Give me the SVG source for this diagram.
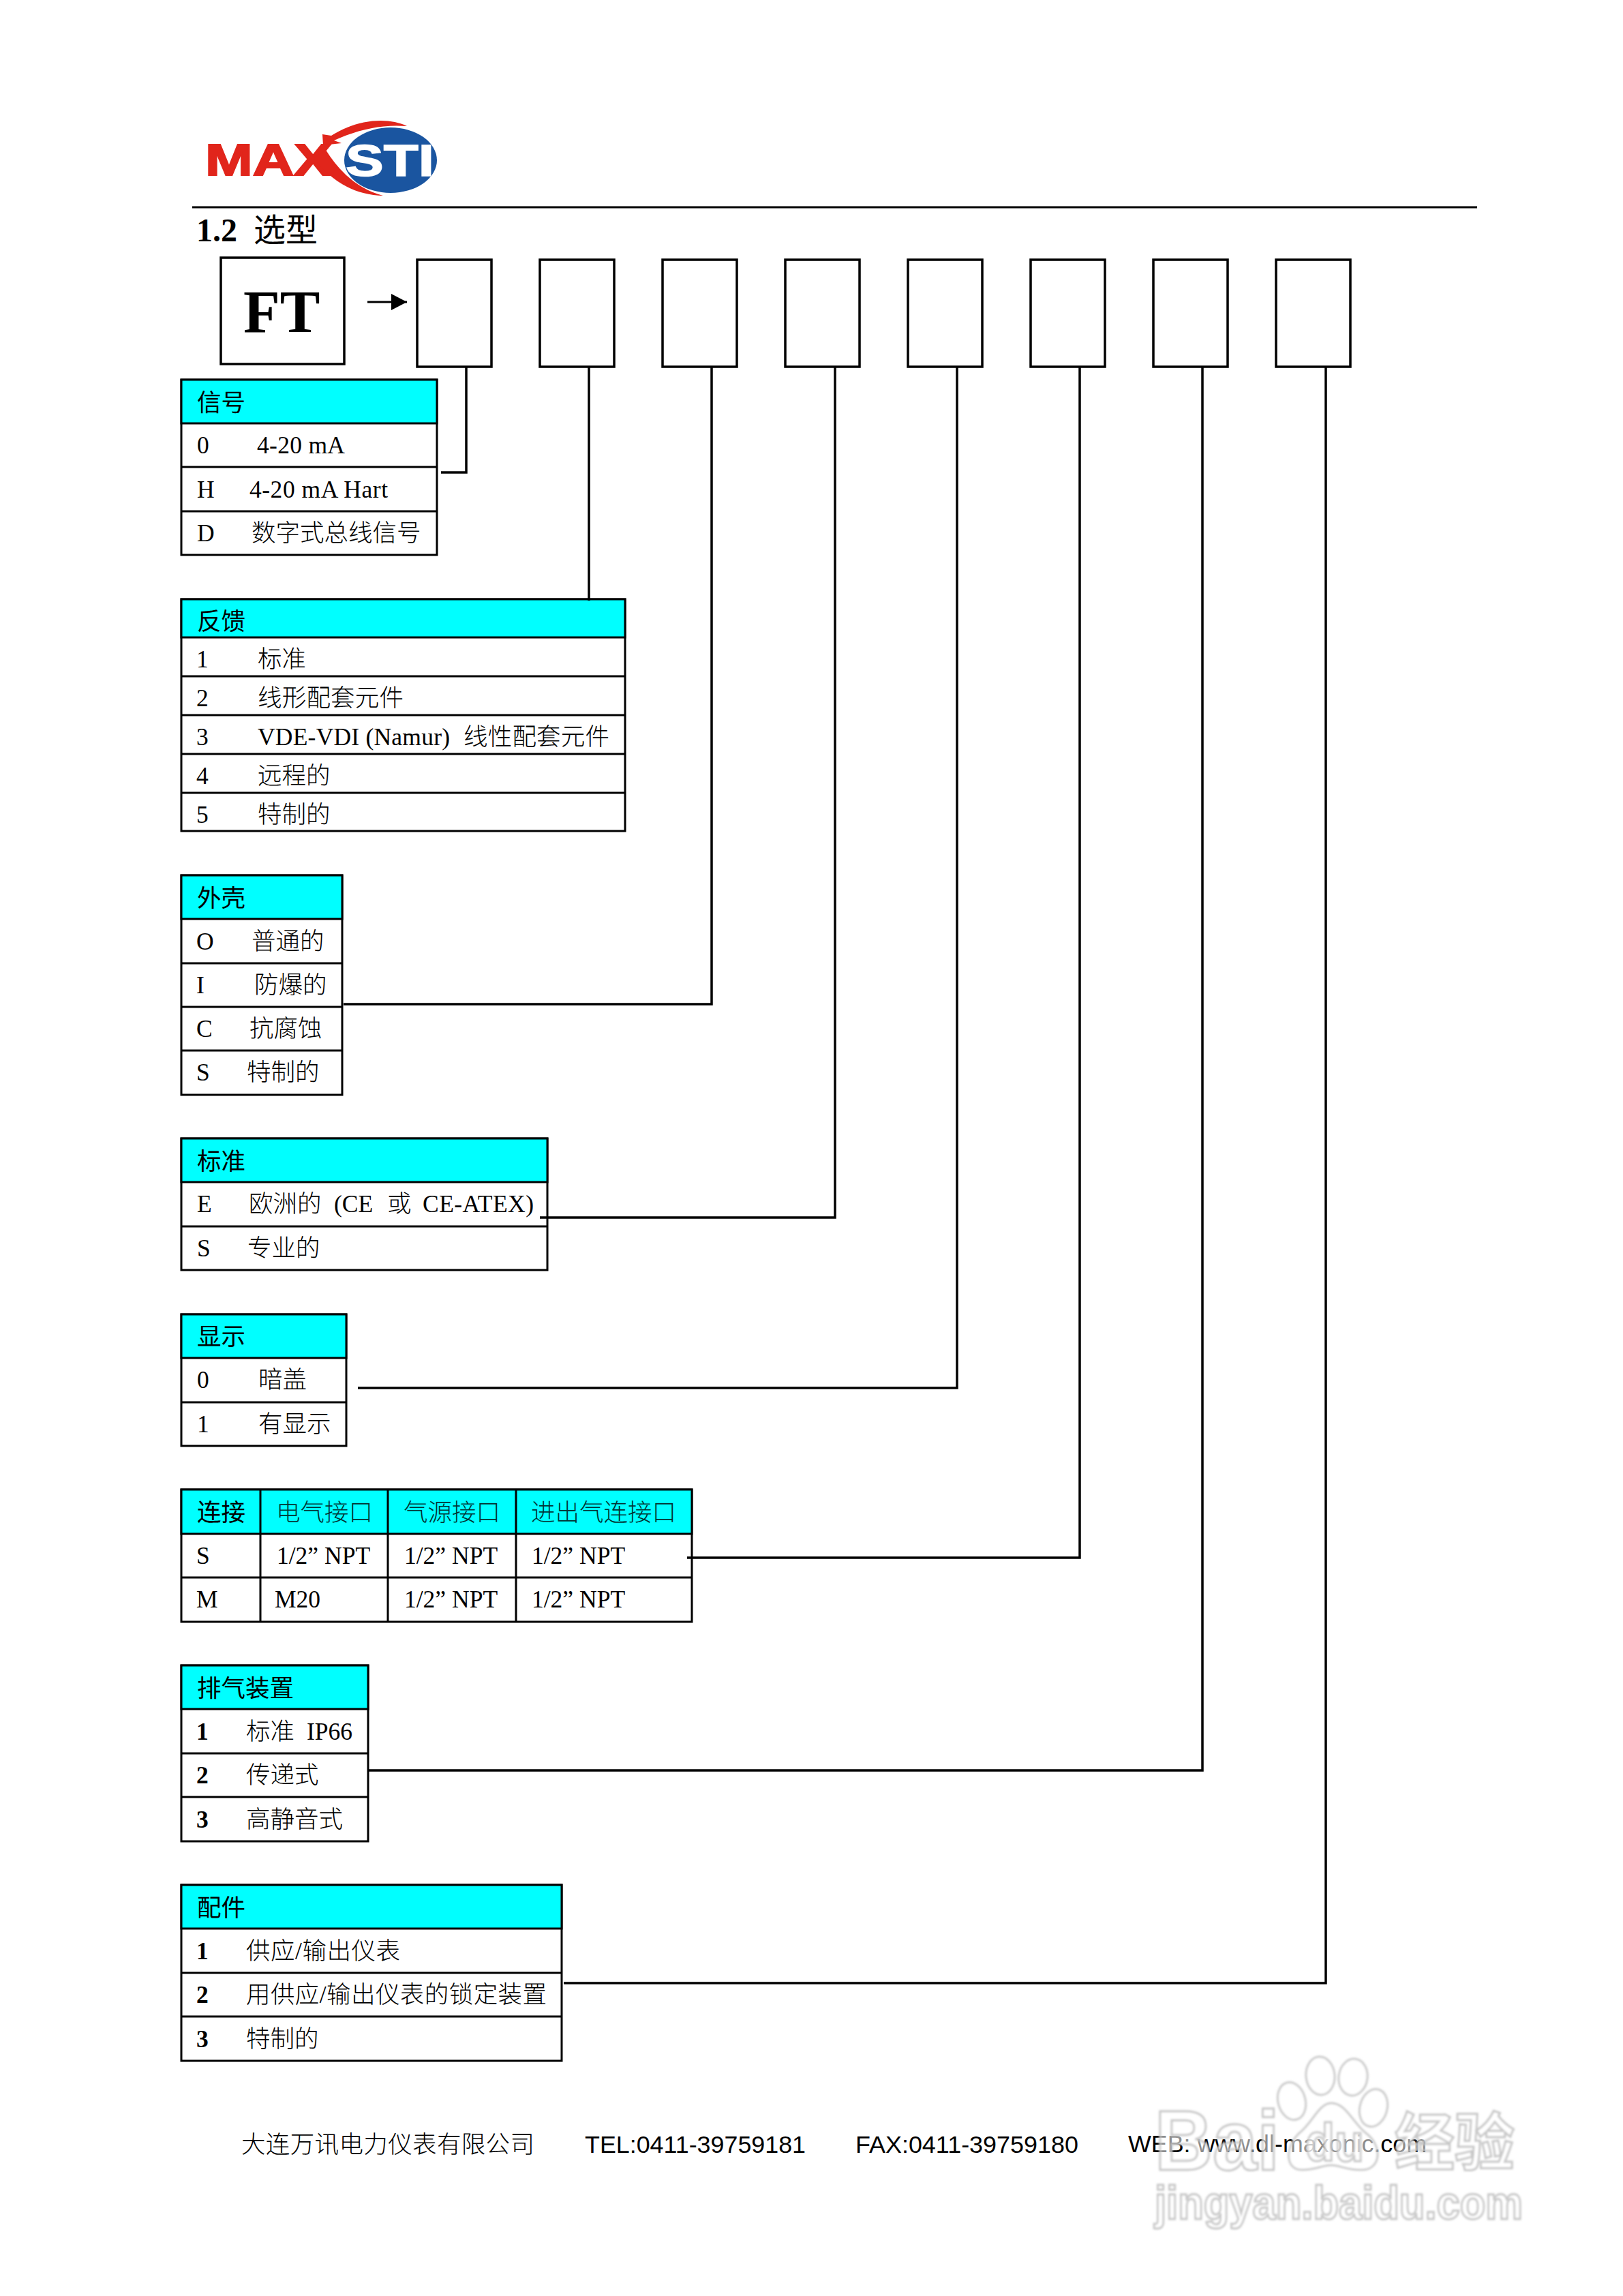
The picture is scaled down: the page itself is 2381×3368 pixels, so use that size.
<svg xmlns="http://www.w3.org/2000/svg" width="2381" height="3368" viewBox="0 0 2381 3368">
<defs>
<filter id="soft" x="-5%" y="-5%" width="110%" height="110%"><feGaussianBlur stdDeviation="1.8"/></filter>
<marker id="arrow" markerUnits="userSpaceOnUse" markerWidth="24" markerHeight="26" refX="23" refY="13" orient="auto"><path d="M0 1L23 13L0 25Z" fill="#000"/></marker>
</defs>
<style>
text{font-family:"Liberation Serif","Noto Sans CJK SC",serif;font-size:35.5px;fill:#000;font-weight:300}
.b{font-weight:bold}
.hd{font-weight:400}
.teal{fill:#023434}
.cell{fill:#fff;stroke:#000;stroke-width:3}
.head{fill:#0ff;stroke:#000;stroke-width:3}
.sl{stroke:#000;stroke-width:3;fill:none}
.box{fill:#fff;stroke:#000;stroke-width:3.5}
.conn{fill:none;stroke:#000;stroke-width:3.5}
.foot{font-family:"Liberation Sans","Noto Sans CJK SC",sans-serif;font-size:35.3px;font-weight:400}
.wm{font-family:"Liberation Sans","Noto Sans CJK SC",sans-serif;font-weight:bold;fill:#fff;fill-opacity:.55;stroke:#c6c6c6;stroke-width:3}
.wmp{fill:#fff;fill-opacity:.55;stroke:#cacaca;stroke-width:3}
</style>
<rect width="2381" height="3368" fill="#fff"/>

<g id="logo">
<ellipse cx="573" cy="235" rx="68" ry="48" fill="#1a55a0"/>
<text x="301" y="257" textLength="186" lengthAdjust="spacingAndGlyphs" style="font-family:'Liberation Sans',sans-serif;font-weight:bold;font-size:64px;fill:#e1251b;stroke:#e1251b;stroke-width:2">MAX</text>
<text x="507" y="258" textLength="130" lengthAdjust="spacingAndGlyphs" style="font-family:'Liberation Sans',sans-serif;font-weight:bold;font-size:65px;fill:#fff;stroke:#fff;stroke-width:1.5">STI</text>
<path d="M597 185C570 172 525 174 486 199L473 197L474 213L501 210L490 206C525 190 560 182 597 185Z" fill="#e1251b"/>
<path d="M478 220C497 250 522 276 562 287C522 286 488 268 460 232Z" fill="#e1251b"/>
</g>
<line x1="282" y1="304" x2="2167" y2="304" stroke="#000" stroke-width="3"/>
<text id="title" x="288" y="354" class="b" style="font-size:48px">1.2</text>
<text x="372" y="354" class="hd" style="font-size:47px">选型</text>

<g id="ft"><rect class="box" x="324" y="378" width="181" height="156"/><text x="357" y="487" class="b" style="font-size:88px">FT</text></g>

<g id="slot1"><rect class="box" x="612" y="381" width="109" height="157"/></g>
<g id="slot2"><rect class="box" x="792" y="381" width="109" height="157"/></g>
<g id="slot3"><rect class="box" x="972" y="381" width="109" height="157"/></g>
<g id="slot4"><rect class="box" x="1152" y="381" width="109" height="157"/></g>
<g id="slot5"><rect class="box" x="1332" y="381" width="109" height="157"/></g>
<g id="slot6"><rect class="box" x="1512" y="381" width="109" height="157"/></g>
<g id="slot7"><rect class="box" x="1692" y="381" width="109" height="157"/></g>
<g id="slot8"><rect class="box" x="1872" y="381" width="109" height="157"/></g>

<g id="table-signal">
<rect class="cell" x="266" y="557" width="375" height="257"/>
<rect class="head" x="266" y="557" width="375" height="64"/>
<path class="sl" d="M266 685H641M266 750H641"/>
<text x="289" y="603" class="hd">信号</text>
<text x="289" y="665">0</text><text x="377" y="665" textLength="129">4-20 mA</text>
<text x="289" y="730">H</text><text x="366" y="730" textLength="203">4-20 mA Hart</text>
<text x="289" y="794">D</text><text x="369" y="794">数字式总线信号</text>
</g>

<g id="table-feedback">
<rect class="cell" x="266" y="879" width="651" height="340"/>
<rect class="head" x="266" y="879" width="651" height="56"/>
<path class="sl" d="M266 992H917M266 1049H917M266 1106H917M266 1163H917"/>
<text x="289" y="924" class="hd">反馈</text>
<text x="288" y="979">1</text><text x="378" y="979">标准</text>
<text x="288" y="1036">2</text><text x="378" y="1036" textLength="214">线形配套元件</text>
<text x="288" y="1093">3</text><text x="378" y="1093" textLength="282">VDE-VDI (Namur)</text><text x="680" y="1093" textLength="214">线性配套元件</text>
<text x="288" y="1150">4</text><text x="378" y="1150">远程的</text>
<text x="288" y="1207">5</text><text x="378" y="1207">特制的</text>
</g>

<g id="table-housing">
<rect class="cell" x="266" y="1284" width="236" height="322"/>
<rect class="head" x="266" y="1284" width="236" height="64"/>
<path class="sl" d="M266 1413H502M266 1477H502M266 1541H502"/>
<text x="289" y="1330" class="hd">外壳</text>
<text x="288" y="1393">O</text><text x="369" y="1393">普通的</text>
<text x="288" y="1457">I</text><text x="373" y="1457">防爆的</text>
<text x="288" y="1521">C</text><text x="366" y="1521">抗腐蚀</text>
<text x="288" y="1585">S</text><text x="362" y="1585">特制的</text>
</g>

<g id="table-standard">
<rect class="cell" x="266" y="1670" width="537" height="193"/>
<rect class="head" x="266" y="1670" width="537" height="64"/>
<path class="sl" d="M266 1799H803"/>
<text x="289" y="1716" class="hd">标准</text>
<text x="289" y="1778">E</text><text x="365" y="1778">欧洲的</text><text x="490" y="1778">(CE</text><text x="568" y="1778">或</text><text x="620" y="1778" textLength="163">CE-ATEX)</text>
<text x="289" y="1843">S</text><text x="363" y="1843">专业的</text>
</g>

<g id="table-display">
<rect class="cell" x="266" y="1928" width="242" height="193"/>
<rect class="head" x="266" y="1928" width="242" height="64"/>
<path class="sl" d="M266 2057H508"/>
<text x="289" y="1973" class="hd">显示</text>
<text x="289" y="2036">0</text><text x="379" y="2036">暗盖</text>
<text x="289" y="2101">1</text><text x="379" y="2101">有显示</text>
</g>

<g id="table-connection">
<rect class="cell" x="266" y="2185" width="749" height="194"/>
<rect class="head" x="266" y="2185" width="749" height="65"/>
<path class="sl" d="M266 2314H1015M382 2185V2379M569 2185V2379M757 2185V2379"/>
<text x="289" y="2231" class="hd">连接</text>
<text x="405" y="2231" class="teal">电气接口</text>
<text x="592" y="2231" class="teal">气源接口</text>
<text x="779" y="2231" class="teal">进出气连接口</text>
<text x="288" y="2294">S</text><text x="406" y="2294">1/2” NPT</text><text x="593" y="2294">1/2” NPT</text><text x="780" y="2294">1/2” NPT</text>
<text x="288" y="2358">M</text><text x="403" y="2358">M20</text><text x="593" y="2358">1/2” NPT</text><text x="780" y="2358">1/2” NPT</text>
</g>

<g id="table-exhaust">
<rect class="cell" x="266" y="2443" width="274" height="258"/>
<rect class="head" x="266" y="2443" width="274" height="64"/>
<path class="sl" d="M266 2572H540M266 2636H540"/>
<text x="289" y="2489" class="hd">排气装置</text>
<text x="288" y="2552" class="b">1</text><text x="361" y="2552">标准</text><text x="450" y="2552">IP66</text>
<text x="288" y="2616" class="b">2</text><text x="361" y="2616">传递式</text>
<text x="288" y="2681" class="b">3</text><text x="361" y="2681">高静音式</text>
</g>

<g id="table-accessory">
<rect class="cell" x="266" y="2765" width="558" height="258"/>
<rect class="head" x="266" y="2765" width="558" height="64"/>
<path class="sl" d="M266 2894H824M266 2958H824"/>
<text x="289" y="2811" class="hd">配件</text>
<text x="288" y="2874" class="b">1</text><text x="361" y="2874" textLength="226">供应/输出仪表</text>
<text x="288" y="2938" class="b">2</text><text x="361" y="2938" textLength="441">用供应/输出仪表的锁定装置</text>
<text x="288" y="3003" class="b">3</text><text x="361" y="3003">特制的</text>
</g>

<g id="connectors">
<line x1="539" y1="443" x2="597" y2="443" stroke="#000" stroke-width="3" marker-end="url(#arrow)"/>
<path class="conn" d="M684 538V693H647"/>
<path class="conn" d="M864 538V881"/>
<path class="conn" d="M1044 538V1473H504"/>
<path class="conn" d="M1225 538V1786H792"/>
<path class="conn" d="M1404 538V2036H525"/>
<path class="conn" d="M1584 538V2285H1008"/>
<path class="conn" d="M1764 538V2597H540"/>
<path class="conn" d="M1945 538V2909H827"/>
</g>

<g id="footer">
<text x="354" y="3158" textLength="430">大连万讯电力仪表有限公司</text>
<text x="858" y="3158" class="foot" textLength="324" lengthAdjust="spacingAndGlyphs">TEL:0411-39759181</text>
<text x="1255" y="3158" class="foot" textLength="327" lengthAdjust="spacingAndGlyphs">FAX:0411-39759180</text>
<text x="1655" y="3157" class="foot" textLength="438" lengthAdjust="spacingAndGlyphs">WEB: www.dl-maxonic.com</text>
</g>

<g id="watermark" filter="url(#soft)">
<ellipse class="wmp" cx="1895" cy="3082" rx="20" ry="28" transform="rotate(-15 1895 3082)"/>
<ellipse class="wmp" cx="1937" cy="3045" rx="21" ry="28" transform="rotate(-5 1937 3045)"/>
<ellipse class="wmp" cx="1985" cy="3047" rx="21" ry="27" transform="rotate(8 1985 3047)"/>
<ellipse class="wmp" cx="2015" cy="3092" rx="20" ry="28" transform="rotate(15 2015 3092)"/>
<path class="wmp" d="M1953 3085C1975 3085 1985 3115 2005 3130C2030 3150 2025 3185 1995 3183C1975 3183 1965 3176 1953 3176C1940 3176 1930 3183 1910 3183C1885 3183 1885 3150 1905 3130C1925 3115 1935 3085 1953 3085Z"/>
<text class="wm" x="1694" y="3183" textLength="183" lengthAdjust="spacingAndGlyphs" style="font-size:125px">Bai</text>
<text class="wm" x="1915" y="3170" textLength="86" lengthAdjust="spacingAndGlyphs" style="font-size:78px">du</text>
<text class="wm" x="2046" y="3176" textLength="176" lengthAdjust="spacingAndGlyphs" style="font-size:92px">经验</text>
<text class="wm" x="1694" y="3255" textLength="540" lengthAdjust="spacingAndGlyphs" style="font-size:69px">jingyan.baidu.com</text>
</g>
</svg>
